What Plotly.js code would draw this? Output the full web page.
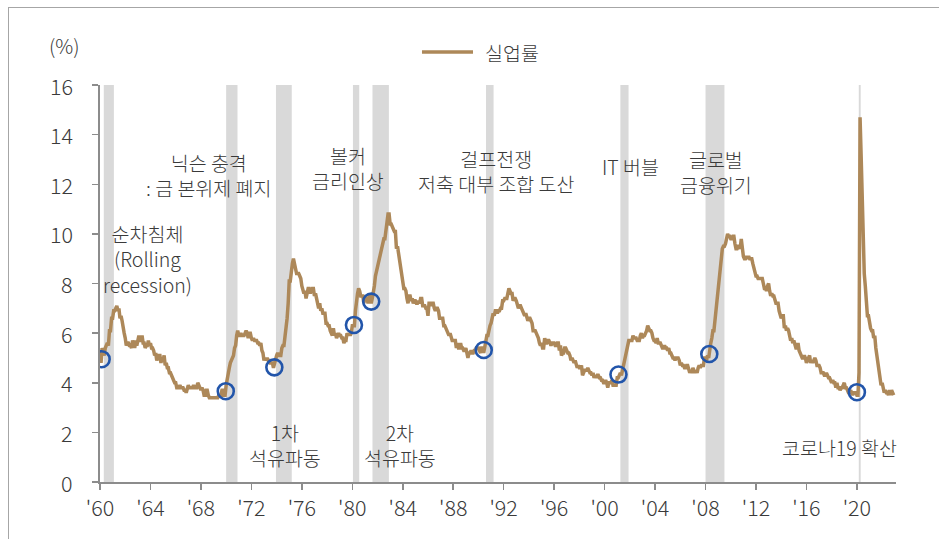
<!DOCTYPE html>
<html>
<head>
<meta charset="utf-8">
<script src="https://cdn.plot.ly/plotly-3.0.1.min.js"></script>
<style>
  html, body { margin: 0; padding: 0; background: #ffffff; }
  #wrap { position: relative; width: 939px; height: 539px; overflow: hidden; }
  #chart { position: absolute; left: 0; top: 0; width: 939px; height: 539px; }
  #frame { position: absolute; left: 8px; top: 7px; width: 940px; height: 540px;
           border-top: 1.5px solid #a6a6a6; border-left: 1.5px solid #a6a6a6; pointer-events: none; }
</style>
</head>
<body>
<div id="wrap">
  <div id="chart"></div>
  <div id="frame"></div>
</div>
<script>
// ---- Data: US unemployment rate (%), monthly, Jan 1960 - Dec 2022 ----
const startYear = 1960;
const unemploymentRate = [
  5.2,4.8,5.4,5.2,5.1,5.4,5.5,5.6,5.5,6.1,6.1,6.6,   // 1960
  6.6,6.9,6.9,7.0,7.1,6.9,7.0,6.6,6.7,6.5,6.1,6.0,   // 1961
  5.8,5.5,5.6,5.6,5.5,5.5,5.4,5.7,5.6,5.4,5.7,5.5,   // 1962
  5.7,5.9,5.7,5.7,5.9,5.6,5.6,5.4,5.5,5.5,5.7,5.5,   // 1963
  5.6,5.4,5.4,5.3,5.1,5.2,4.9,5.0,5.1,5.1,4.8,5.0,   // 1964
  4.9,5.1,4.7,4.8,4.6,4.6,4.4,4.4,4.3,4.2,4.1,4.0,   // 1965
  4.0,3.8,3.8,3.8,3.9,3.8,3.8,3.8,3.7,3.7,3.6,3.8,   // 1966
  3.9,3.8,3.8,3.8,3.8,3.9,3.8,3.8,3.8,4.0,3.9,3.8,   // 1967
  3.7,3.8,3.7,3.5,3.5,3.7,3.7,3.5,3.4,3.4,3.4,3.4,   // 1968
  3.4,3.4,3.4,3.4,3.4,3.5,3.5,3.5,3.7,3.7,3.5,3.5,   // 1969
  3.9,4.2,4.4,4.6,4.8,4.9,5.0,5.1,5.4,5.5,5.9,6.1,   // 1970
  5.9,5.9,6.0,5.9,5.9,5.9,6.0,6.1,6.0,5.8,6.0,6.0,   // 1971
  5.8,5.7,5.8,5.7,5.7,5.7,5.6,5.6,5.5,5.6,5.3,5.2,   // 1972
  4.9,5.0,4.9,5.0,4.9,4.9,4.8,4.8,4.8,4.6,4.8,4.9,   // 1973
  5.1,5.2,5.1,5.1,5.1,5.4,5.5,5.5,5.9,6.0,6.6,7.2,   // 1974
  8.1,8.1,8.6,8.8,9.0,8.8,8.6,8.4,8.4,8.4,8.3,8.2,   // 1975
  7.9,7.7,7.6,7.7,7.4,7.6,7.8,7.8,7.6,7.7,7.8,7.8,   // 1976
  7.5,7.6,7.4,7.2,7.0,7.2,6.9,7.0,6.8,6.8,6.8,6.4,   // 1977
  6.4,6.3,6.3,6.1,6.0,5.9,6.2,5.9,6.0,5.8,5.9,6.0,   // 1978
  5.9,5.9,5.8,5.8,5.6,5.7,5.7,6.0,5.9,6.0,5.9,6.0,   // 1979
  6.3,6.3,6.3,6.9,7.5,7.6,7.8,7.7,7.5,7.5,7.5,7.2,   // 1980
  7.5,7.4,7.4,7.2,7.5,7.5,7.2,7.4,7.6,7.9,8.3,8.5,   // 1981
  8.6,8.9,9.0,9.3,9.4,9.6,9.8,9.8,10.1,10.4,10.8,10.8, // 1982
  10.4,10.4,10.3,10.2,10.1,10.1,9.4,9.5,9.2,8.8,8.5,8.3, // 1983
  8.0,7.8,7.8,7.7,7.4,7.2,7.5,7.5,7.3,7.4,7.2,7.3,   // 1984
  7.3,7.2,7.2,7.3,7.2,7.4,7.4,7.1,7.1,7.1,7.0,7.0,   // 1985
  6.7,7.2,7.2,7.1,7.2,7.2,7.0,6.9,7.0,7.0,6.9,6.6,   // 1986
  6.6,6.6,6.6,6.3,6.3,6.2,6.1,6.0,5.9,6.0,5.8,5.7,   // 1987
  5.7,5.7,5.7,5.4,5.6,5.4,5.4,5.6,5.4,5.4,5.3,5.3,   // 1988
  5.4,5.2,5.0,5.2,5.2,5.3,5.2,5.2,5.3,5.3,5.4,5.4,   // 1989
  5.4,5.3,5.2,5.4,5.4,5.2,5.5,5.7,5.9,5.9,6.2,6.3,   // 1990
  6.4,6.6,6.8,6.7,6.9,6.9,6.8,6.9,6.9,7.0,7.0,7.3,   // 1991
  7.3,7.4,7.4,7.4,7.6,7.8,7.7,7.6,7.6,7.3,7.4,7.4,   // 1992
  7.3,7.1,7.0,7.1,7.1,7.0,6.9,6.8,6.7,6.8,6.6,6.5,   // 1993
  6.6,6.6,6.5,6.4,6.1,6.1,6.1,6.0,5.9,5.8,5.6,5.5,   // 1994
  5.6,5.4,5.4,5.8,5.6,5.6,5.7,5.7,5.6,5.5,5.6,5.6,   // 1995
  5.6,5.5,5.5,5.6,5.6,5.3,5.5,5.1,5.2,5.2,5.4,5.4,   // 1996
  5.3,5.2,5.2,5.1,4.9,5.0,4.9,4.8,4.9,4.7,4.6,4.7,   // 1997
  4.6,4.6,4.7,4.3,4.4,4.5,4.5,4.5,4.6,4.5,4.4,4.4,   // 1998
  4.3,4.4,4.2,4.3,4.2,4.3,4.3,4.2,4.2,4.1,4.1,4.0,   // 1999
  4.0,4.1,4.0,3.8,4.0,4.0,4.0,4.1,3.9,3.9,3.9,3.9,   // 2000
  4.2,4.2,4.3,4.4,4.3,4.5,4.6,4.9,5.0,5.3,5.5,5.7,   // 2001
  5.7,5.7,5.7,5.9,5.8,5.8,5.8,5.7,5.7,5.7,5.9,6.0,   // 2002
  5.8,5.9,5.9,6.0,6.1,6.3,6.2,6.1,6.1,6.0,5.8,5.7,   // 2003
  5.7,5.6,5.8,5.6,5.6,5.6,5.5,5.4,5.4,5.5,5.4,5.4,   // 2004
  5.3,5.4,5.2,5.2,5.1,5.0,5.0,4.9,5.0,5.0,5.0,4.9,   // 2005
  4.7,4.8,4.7,4.7,4.6,4.6,4.7,4.7,4.5,4.4,4.5,4.4,   // 2006
  4.6,4.5,4.4,4.5,4.4,4.6,4.7,4.6,4.7,4.7,4.7,5.0,   // 2007
  5.0,4.9,5.1,5.0,5.4,5.6,5.8,6.1,6.1,6.5,6.8,7.3,   // 2008
  7.8,8.3,8.7,9.0,9.4,9.5,9.5,9.6,9.8,10.0,9.9,9.9,  // 2009
  9.8,9.8,9.9,9.9,9.6,9.4,9.4,9.5,9.5,9.4,9.8,9.3,   // 2010
  9.1,9.0,9.0,9.1,9.0,9.1,9.0,9.0,9.0,8.8,8.6,8.5,   // 2011
  8.3,8.3,8.2,8.2,8.2,8.2,8.2,8.0,7.8,7.8,7.7,7.9,   // 2012
  8.0,7.7,7.5,7.6,7.5,7.5,7.3,7.2,7.2,7.2,6.9,6.7,   // 2013
  6.6,6.7,6.7,6.2,6.3,6.1,6.2,6.1,5.9,5.7,5.8,5.6,   // 2014
  5.7,5.5,5.4,5.4,5.6,5.3,5.2,5.1,5.0,5.0,5.1,5.0,   // 2015
  4.8,4.9,5.0,5.1,4.8,4.9,4.8,4.9,5.0,4.9,4.7,4.7,   // 2016
  4.7,4.6,4.4,4.4,4.4,4.3,4.3,4.4,4.3,4.2,4.2,4.1,   // 2017
  4.0,4.1,4.0,4.0,3.8,4.0,3.8,3.8,3.7,3.8,3.8,3.9,   // 2018
  4.0,3.8,3.8,3.7,3.6,3.6,3.7,3.6,3.5,3.6,3.6,3.6,   // 2019
  3.5,3.5,4.4,14.7,13.2,11.0,10.2,8.4,7.9,6.9,6.7,6.7, // 2020
  6.4,6.2,6.1,6.1,5.8,5.9,5.4,5.1,4.7,4.5,4.2,3.9,   // 2021
  4.0,3.8,3.6,3.7,3.6,3.6,3.5,3.7,3.5,3.7,3.6,3.5    // 2022
];

// Recession periods (fractional years)
const recessionStart = [1960.30, 1970.00, 1973.95, 1980.05, 1981.60, 1990.60, 2001.25, 2008.00, 2020.15];
const recessionEnd   = [1961.10, 1970.90, 1975.20, 1980.55, 1982.90, 1991.20, 2001.90, 2009.50, 2020.30];

// Highlighted points (blue circles)
const circleX = [1960.13, 1969.97, 1973.82, 1980.13, 1981.50, 1990.42, 2001.10, 2008.30, 2020.00];
const circleY = [4.95, 3.66, 4.62, 6.33, 7.27, 5.32, 4.33, 5.16, 3.62];

// Axis ticks
const xTickVals = [1960,1964,1968,1972,1976,1980,1984,1988,1992,1996,2000,2004,2008,2012,2016,2020];
const xTickText = ["'60","'64","'68","'72","'76","'80","'84","'88","'92","'96","'00","'04","'08","'12","'16","'20"];
const yTickVals = [0,2,4,6,8,10,12,14,16];

// Annotation labels
const labelText = [
  "순차침체<br>(Rolling<br>recession)",
  "닉슨 충격<br>: 금 본위제 폐지",
  "볼커<br>금리인상",
  "걸프전쟁<br>저축 대부 조합 도산",
  "IT 버블",
  "글로벌<br>금융위기",
  "1차<br>석유파동",
  "2차<br>석유파동",
  "코로나19 확산"
];
const labelX = [1963.73, 1968.64, 1979.67, 1991.40, 2002.03, 2008.85, 1974.67, 1983.79, 2018.60];
const labelY = [9.0, 12.38, 12.64, 12.52, 12.70, 12.48, 1.49, 1.49, 1.38];

const seriesName = '실업률';
const unitLabel = '(%)';

// ---- Build ----
const xs = unemploymentRate.map((v, i) => startYear + i / 12);

const FONT = '"Noto Sans CJK KR", "Noto Sans", sans-serif';
const TXT = '#3a3a3a';
const LINE = '#AD8859';

const traces = [
  {
    x: xs, y: unemploymentRate, type: 'scatter', mode: 'lines', name: seriesName,
    line: { color: LINE, width: 3.5 }, showlegend: false,
    hoverinfo: 'skip'
  },
  {
    x: circleX, y: circleY, type: 'scatter', mode: 'markers', showlegend: false,
    marker: { symbol: 'circle-open', size: 16, color: '#2255AA', line: { width: 2.6, color: '#2255AA' } },
    hoverinfo: 'skip'
  }
];

const shapes = recessionStart.map((s, i) => ({
  type: 'rect', xref: 'x', yref: 'y', x0: s, x1: recessionEnd[i], y0: 0, y1: 16,
  fillcolor: '#d9d9d9', line: { width: 0 }, layer: 'below'
}));
// legend swatch
shapes.push({
  type: 'line', xref: 'paper', yref: 'paper', x0: 0.4045, x1: 0.4686, y0: 1.083, y1: 1.083,
  line: { color: LINE, width: 3.5 }
});

const annotations = labelText.map((t, i) => ({
  text: t, x: labelX[i], y: labelY[i], xref: 'x', yref: 'y',
  showarrow: false, align: 'center', xanchor: 'center', yanchor: 'middle',
  font: { family: FONT, size: 19.5, color: TXT, weight: 300 }
}));
annotations.push({
  text: unitLabel, xref: 'paper', yref: 'paper', x: -0.045, y: 1.1, xanchor: 'center', yanchor: 'middle',
  showarrow: false, font: { family: FONT, size: 20, color: TXT, weight: 300 }
});
annotations.push({
  text: seriesName, xref: 'paper', yref: 'paper', x: 0.481, y: 1.083, xanchor: 'left', yanchor: 'middle',
  showarrow: false, font: { family: FONT, size: 19.5, color: TXT, weight: 300 }
});
// y-axis tick labels placed at the reference's offset from the axis
yTickVals.forEach(v => annotations.push({
  text: String(v), xref: 'paper', yref: 'y', x: -0.0315, y: v, xanchor: 'right', yanchor: 'middle',
  showarrow: false, font: { family: FONT, size: 21.5, color: TXT, weight: 300 }
}));

const layout = {
  width: 939, height: 539,
  margin: { l: 100, r: 43, t: 85, b: 57 },
  paper_bgcolor: 'rgba(0,0,0,0)', plot_bgcolor: 'rgba(0,0,0,0)',
  font: { family: FONT, color: TXT },
  showlegend: false,
  xaxis: {
    range: [1960, 2023.1], showgrid: false, zeroline: false,
    showline: true, linecolor: '#8c8c8c', linewidth: 2,
    ticks: 'outside', ticklen: 6, tickwidth: 1.5, tickcolor: '#8c8c8c',
    tickvals: xTickVals, ticktext: xTickText,
    tickfont: { family: FONT, size: 21.5, color: TXT, weight: 300 }
  },
  yaxis: {
    range: [0, 16], showgrid: false, zeroline: false,
    showline: true, linecolor: '#8c8c8c', linewidth: 2,
    ticks: 'outside', ticklen: 6, tickwidth: 1.5, tickcolor: '#8c8c8c',
    tickvals: yTickVals, showticklabels: false
  },
  shapes: shapes,
  annotations: annotations
};

Plotly.newPlot('chart', traces, layout, { staticPlot: true, displayModeBar: false });
</script>
</body>
</html>
